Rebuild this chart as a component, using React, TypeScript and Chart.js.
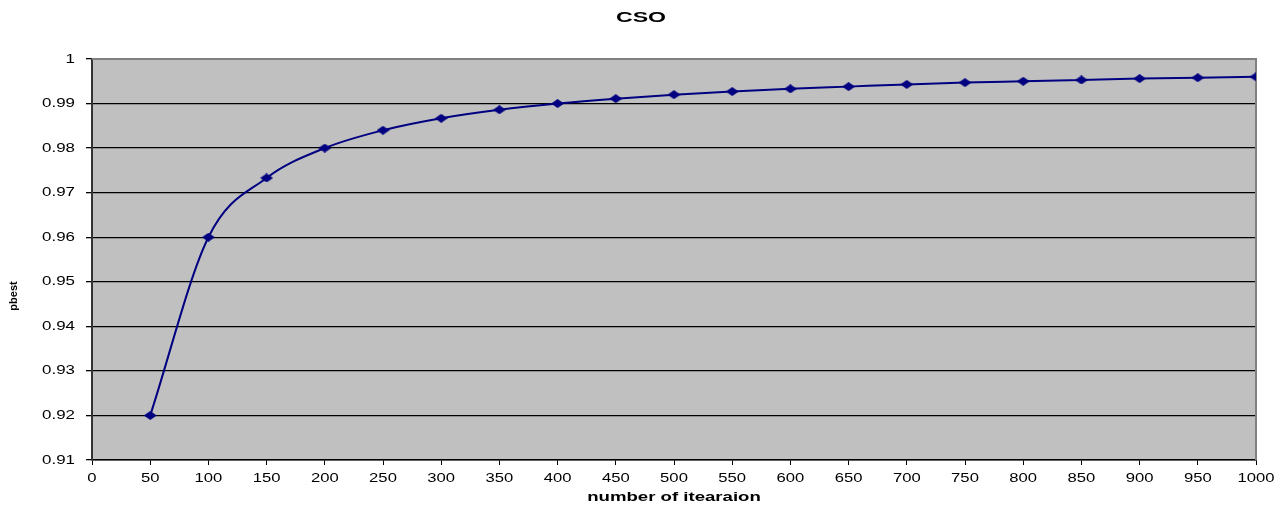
import React, { useEffect, useRef } from "react";
import { Chart, registerables } from "chart.js";

Chart.register(...registerables);

const iterations = [50, 100, 150, 200, 250, 300, 350, 400, 450, 500, 550, 600, 650, 700, 750, 800, 850, 900, 950, 1000];
const values = [0.92, 0.96, 0.9733, 0.98, 0.984, 0.9867, 0.9886, 0.99, 0.9911, 0.992, 0.9927, 0.9933, 0.9938, 0.9943, 0.9947, 0.995, 0.9953, 0.9956, 0.9958, 0.996];
const chartTitle = "CSO";
const xTitle = "number of itearaion";
const yTitle = "pbest";

const FONT = "Arial, 'Liberation Sans', sans-serif";

function makeDiamond(): HTMLCanvasElement {
  const c = document.createElement("canvas");
  c.width = 13;
  c.height = 9;
  const g = c.getContext("2d")!;
  g.fillStyle = "#000080";
  g.beginPath();
  g.moveTo(0, 4.5);
  g.lineTo(6.5, 0);
  g.lineTo(13, 4.5);
  g.lineTo(6.5, 9);
  g.closePath();
  g.fill();
  return c;
}

function stretchedText(ctx: any, text: string, x: number, y: number, sx: number, align: "left" | "center" | "right") {
  const w = ctx.measureText(text).width * sx;
  let left = x;
  if (align === "center") left = x - w / 2;
  else if (align === "right") left = x - w;
  ctx.save();
  ctx.translate(left, y);
  ctx.scale(sx, 1);
  ctx.textAlign = "left";
  ctx.fillText(text, 0, 0);
  ctx.restore();
}

const plotDecor = {
  id: "plotDecor",
  beforeDraw(chart: any) {
    const { ctx, chartArea } = chart;
    ctx.save();
    ctx.fillStyle = "#fff";
    ctx.fillRect(0, 0, chart.width, chart.height);
    ctx.fillStyle = "#C0C0C0";
    ctx.fillRect(chartArea.left, chartArea.top, chartArea.right - chartArea.left, chartArea.bottom - chartArea.top);
    ctx.restore();
  },
  beforeDatasetsDraw(chart: any) {
    const { ctx, chartArea } = chart;
    ctx.save();
    ctx.strokeStyle = "#808080";
    ctx.lineWidth = 2;
    ctx.beginPath();
    ctx.moveTo(chartArea.left, chartArea.top);
    ctx.lineTo(chartArea.right, chartArea.top);
    ctx.lineTo(chartArea.right, chartArea.bottom);
    ctx.stroke();
    ctx.restore();
  },
  afterDraw(chart: any) {
    const { ctx, chartArea } = chart;
    const xs = chart.scales.x;
    const ys = chart.scales.y;
    ctx.save();
    ctx.fillStyle = "#000";
    ctx.textBaseline = "middle";
    ctx.font = `13px ${FONT}`;
    xs.ticks.forEach((t: any) => {
      const px = xs.getPixelForValue(t.value);
      stretchedText(ctx, String(t.value), px, 478, 1.28, "center");
    });
    ys.ticks.forEach((t: any) => {
      const py = ys.getPixelForValue(t.value);
      stretchedText(ctx, String(Number(Number(t.value).toFixed(2))), 75, py, 1.3, "right");
    });
    ctx.font = `bold 14px ${FONT}`;
    stretchedText(ctx, chartTitle, 641, 18, 1.65, "center");
    ctx.font = `bold 12px ${FONT}`;
    stretchedText(ctx, xTitle, (chartArea.left + chartArea.right) / 2, 498, 1.55, "center");
    ctx.save();
    ctx.translate(14, 296);
    ctx.rotate(-Math.PI / 2);
    ctx.font = `bold 11px ${FONT}`;
    stretchedText(ctx, yTitle, 0, 0, 1.0, "center");
    ctx.restore();
    ctx.restore();
  },
};

export default function App() {
  const ref = useRef<HTMLCanvasElement>(null);
  useEffect(() => {
    if (!ref.current) return;
    const diamond = makeDiamond();
    const chart = new Chart(ref.current, {
      type: "line",
      data: {
        datasets: [
          {
            data: iterations.map((x, i) => ({ x, y: values[i] })),
            borderColor: "#000080",
            backgroundColor: "#000080",
            borderWidth: 2,
            pointStyle: diamond as any,
            pointRadius: 5,
            cubicInterpolationMode: "monotone",
            fill: false,
          },
        ],
      },
      options: {
        animation: false,
        responsive: false,
        maintainAspectRatio: false,
        layout: { padding: { left: 0, right: 30, top: 59, bottom: 0 } },
        plugins: {
          legend: { display: false },
          tooltip: { enabled: false },
          title: { display: false },
        },
        scales: {
          x: {
            type: "linear",
            min: 0,
            max: 1000,
            afterFit: (s: any) => { s.height = 48; },
            ticks: {
              stepSize: 50,
              color: "rgba(0,0,0,0)",
              font: { family: FONT, size: 13 },
              maxRotation: 0,
              autoSkip: false,
            },
            grid: { drawOnChartArea: false, drawTicks: true, tickLength: 5, color: "#000" },
            border: { color: "#000", width: 1.5 },
          },
          y: {
            min: 0.91,
            max: 1,
            afterFit: (s: any) => { s.width = 92; },
            ticks: {
              stepSize: 0.01,
              color: "rgba(0,0,0,0)",
              font: { family: FONT, size: 13 },
            },
            grid: { color: "#000", lineWidth: 1.3, tickLength: 6, drawTicks: true, tickColor: "#000" },
            border: { color: "#333", width: 2 },
          },
        },
      },
      plugins: [plotDecor],
    });
    return () => chart.destroy();
  }, []);
  return (
    <div style={{ position: "fixed", left: 0, top: 0, width: 1286, height: 508, background: "#fff" }}>
      <canvas ref={ref} width={1286} height={508} />
    </div>
  );
}
